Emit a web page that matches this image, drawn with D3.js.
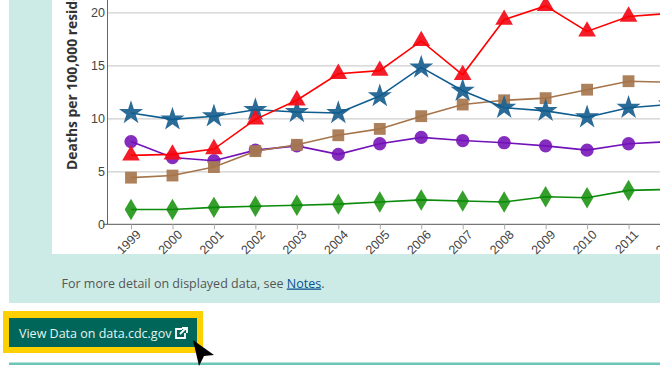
<!DOCTYPE html>
<html>
<head>
<meta charset="utf-8">
<script src="https://cdn.jsdelivr.net/npm/d3@7"></script>
<style>
  html, body { margin: 0; padding: 0; background: #fff; overflow: hidden; }
  svg { display: block; }
  .tick text { font-family: "Liberation Sans", Arial, sans-serif; font-size: 12.5px; fill: #444; }
</style>
</head>
<body>
<div id="chart"></div>
<script>
var years = ["1999", "2000", "2001", "2002", "2003", "2004", "2005", "2006", "2007", "2008", "2009", "2010", "2011", "2012"];
var yTicks = [0, 5, 10, 15, 20];

var seriesSquare = [4.4, 4.6, 5.4, 6.9, 7.5, 8.4, 9.0, 10.2, 11.3, 11.7, 11.9, 12.7, 13.5, 13.4];
var seriesStar = [10.5, 9.9, 10.2, 10.8, 10.6, 10.5, 12.1, 14.8, 12.6, 11.0, 10.7, 10.1, 11.0, 11.3];
var seriesTriangle = [6.5, 6.6, 7.1, 9.9, 11.7, 14.2, 14.5, 17.3, 14.1, 19.3, 20.6, 18.2, 19.6, 19.9];
var seriesCircle = [7.8, 6.3, 6.0, 7.0, 7.4, 6.6, 7.6, 8.2, 7.9, 7.7, 7.4, 7.0, 7.6, 7.8];
var seriesDiamond = [1.4, 1.4, 1.6, 1.7, 1.8, 1.9, 2.1, 2.3, 2.2, 2.1, 2.6, 2.5, 3.2, 3.3];

var svgWidth = 660;
var svgHeight = 372;

var svg = d3.select("#chart")
    .append("svg")
    .attr("width", svgWidth)
    .attr("height", svgHeight);

// page panels behind the chart
svg.append("rect").attr("x", 9).attr("y", -5).attr("width", 660).attr("height", 308).attr("fill", "#cdebe6");
svg.append("rect").attr("x", 52).attr("y", -5).attr("width", 620).attr("height", 259).attr("fill", "#fff");

// scales
var xScale = d3.scalePoint().domain(years).range([131, 670]);
var yScale = d3.scaleLinear().domain([0, 20]).range([224.3, 12.3]);

var plot = svg.append("g");

// y axis
var leftAxis = d3.axisLeft(yScale).tickValues(yTicks).tickSize(0).tickPadding(2.5);
var yAxis = plot.append("g")
    .attr("transform", "translate(107.5,0)")
    .call(leftAxis);
yAxis.select(".domain").remove();
yAxis.selectAll(".tick line")
    .attr("x2", 560)
    .attr("stroke", "#cfcfcf")
    .attr("stroke-width", 1.2);
yAxis.selectAll(".tick").filter(d => d === 0).select("line").remove();

plot.append("line")
    .attr("x1", 107.5).attr("x2", 107.5)
    .attr("y1", -5).attr("y2", 224.3)
    .attr("stroke", "#666").attr("stroke-width", 1);

// x axis
var bottomAxis = d3.axisBottom(xScale).tickSize(5).tickPadding(4);
var xAxis = plot.append("g")
    .attr("transform", "translate(0,224.3)")
    .call(bottomAxis);
xAxis.select(".domain").attr("d", "M103,0H670").attr("stroke", "#555");
xAxis.selectAll(".tick line").attr("stroke", "#aaa");
xAxis.selectAll(".tick text")
    .attr("text-anchor", "end")
    .attr("dy", 0)
    .attr("x", -0.7)
    .attr("y", 6.2)
    .attr("transform", "rotate(-45)")
    .attr("dominant-baseline", "hanging");

// y axis label
svg.append("text")
    .attr("transform", "translate(76.5,170) rotate(-90)")
    .attr("font-family", "'Open Sans', sans-serif")
    .attr("font-weight", 700)
    .attr("font-size", 13.9)
    .attr("fill", "#333")
    .text("Deaths per 100,000 residents");

// marker shapes
function tallDiamond(s) {
    return `M0,${-s * 1.7}L${s},0L0,${s * 1.7}L${-s},0Z`;
}
var starPath = d3.symbol().type(d3.symbolStar).size(180)();
var trianglePath = d3.symbol().type(d3.symbolTriangle).size(135)();
var squarePath = d3.symbol().type(d3.symbolSquare).size(140)();
var circlePath = d3.symbol().type(d3.symbolCircle).size(139)();
var diamondPath = tallDiamond(6.3);

var seriesList = [
    { name: "diamond", values: seriesDiamond, line: "#0b8a0b", fill: "#2a9a20", path: diamondPath },
    { name: "circle", values: seriesCircle, line: "#7312b8", fill: "#7d22bc", path: circlePath },
    { name: "square", values: seriesSquare, line: "#a5744a", fill: "#a87a52", path: squarePath },
    { name: "star", values: seriesStar, line: "#0f5c8f", fill: "#1f6391", path: starPath },
    { name: "triangle", values: seriesTriangle, line: "#ff0000", fill: "#f2101c", path: trianglePath }
];

var lineGen = d3.line()
    .x((d, i) => xScale(years[i]))
    .y(d => yScale(d));

seriesList.forEach(function(s) {
    var g = plot.append("g").attr("class", s.name);
    g.selectAll("path.mark")
        .data(s.values)
        .enter()
        .append("path")
        .attr("class", "mark")
        .attr("d", s.path)
        .attr("transform", (d, i) => `translate(${xScale(years[i])},${yScale(d)})`)
        .attr("fill", s.fill)
        .attr("opacity", 0.95);
    g.append("path")
        .datum(s.values)
        .attr("d", lineGen)
        .attr("fill", "none")
        .attr("stroke", s.line)
        .attr("stroke-width", 1.6);
});

// footnote
var note = svg.append("text")
    .attr("x", 61.5)
    .attr("y", 287.5)
    .attr("font-family", "'Open Sans', sans-serif")
    .attr("font-size", 12.5)
    .attr("fill", "#555");
note.append("tspan").text("For more detail on displayed data, see ");
note.append("tspan").attr("fill", "#075290").attr("text-decoration", "underline").text("Notes");
note.append("tspan").text(".");

// button
svg.append("rect").attr("x", 3).attr("y", 311).attr("width", 200).attr("height", 42).attr("fill", "#ffd000");
svg.append("rect").attr("x", 9).attr("y", 318).attr("width", 188).attr("height", 29).attr("fill", "#00665a");
svg.append("text")
    .attr("x", 19)
    .attr("y", 337.5)
    .attr("font-family", "'Open Sans', sans-serif")
    .attr("font-size", 12.5)
    .attr("fill", "#e6f4f1")
    .text("View Data on data.cdc.gov");

// external link icon
svg.append("path")
    .attr("d", "M182,329H176V338H185V333 M180,334L186,328 M182,328H187V333")
    .attr("fill", "none")
    .attr("stroke", "#fff")
    .attr("stroke-width", 1.8);

// bottom rule
svg.append("rect").attr("x", 9).attr("y", 362.5).attr("width", 660).attr("height", 2.5).attr("fill", "#6cc5b6");

// mouse cursor
svg.append("path")
    .attr("d", "M193,340L214,355L204,356L199,366Z")
    .attr("fill", "#000");
</script>
</body>
</html>
